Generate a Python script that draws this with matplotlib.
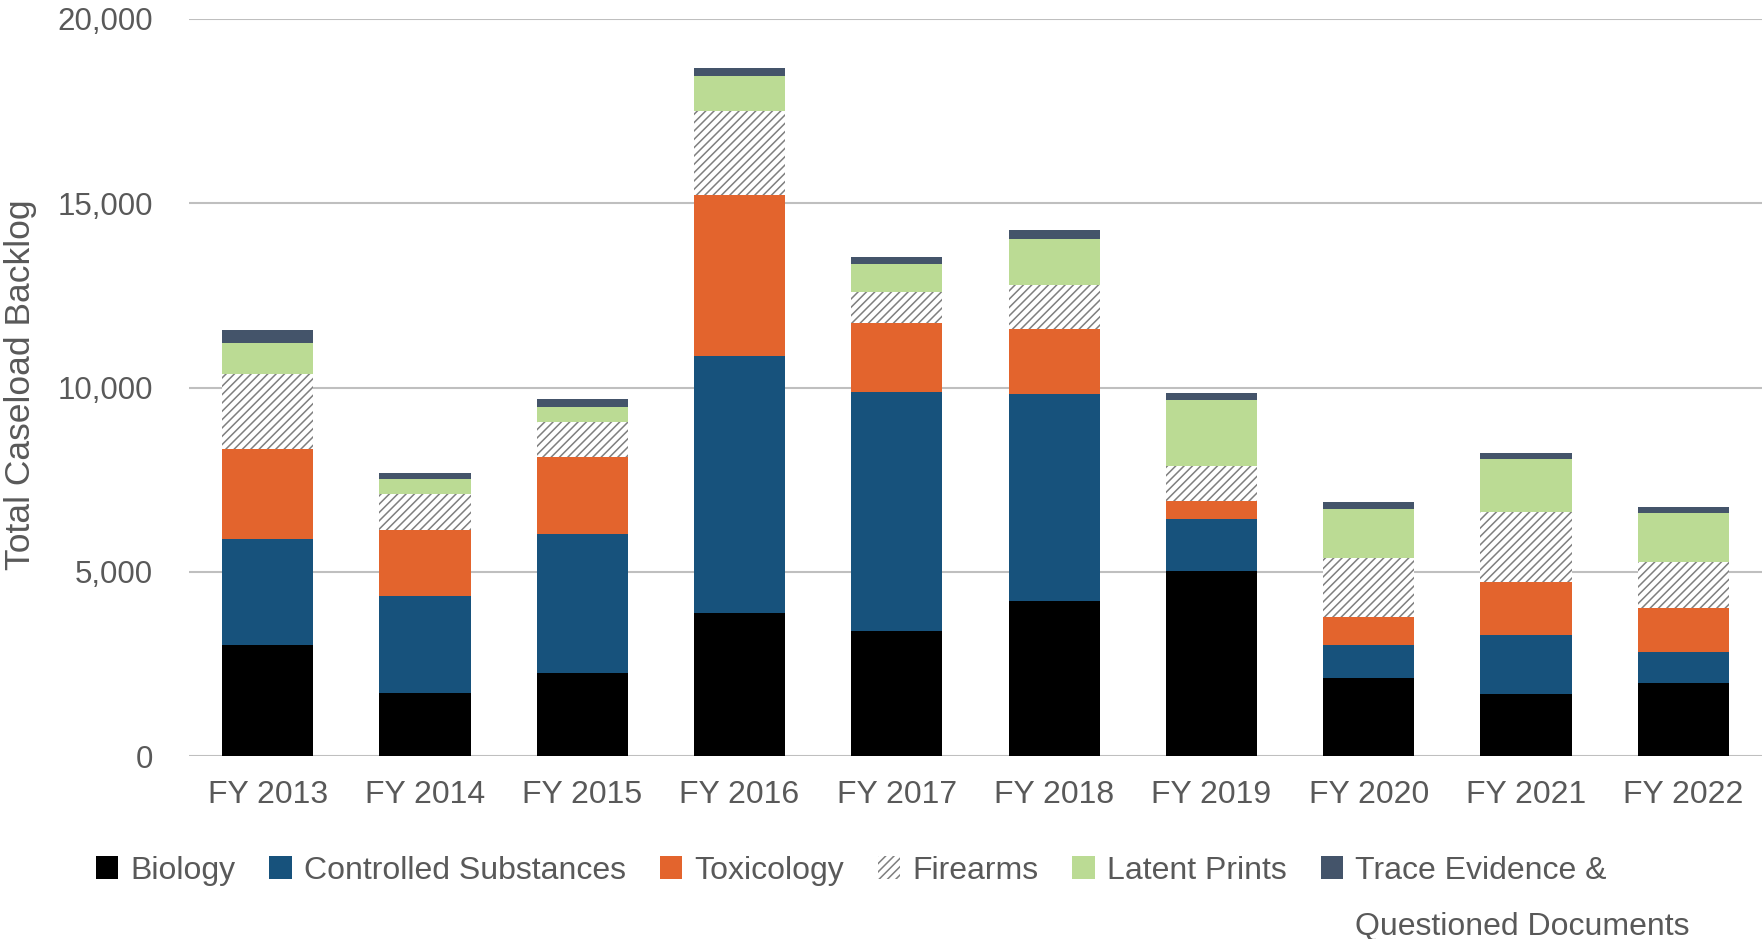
import matplotlib
matplotlib.use('Agg')
import matplotlib.pyplot as plt
import numpy as np

# values (cumulative heights converted to segments)
years = ['FY 2013', 'FY 2014', 'FY 2015', 'FY 2016', 'FY 2017',
         'FY 2018', 'FY 2019', 'FY 2020', 'FY 2021', 'FY 2022']
biology = [3020, 1710, 2255, 3870, 3385, 4205, 5030, 2105, 1680, 1980]
controlled = [2865, 2620, 3780, 6985, 6495, 5610, 1405, 915, 1615, 855]
toxicology = [2440, 1800, 2075, 4360, 1860, 1770, 490, 760, 1430, 1190]
firearms = [2045, 975, 945, 2285, 855, 1190, 945, 1585, 1890, 1250]
latent = [825, 425, 425, 945, 765, 1250, 1800, 1340, 1435, 1310]
trace = [365, 155, 215, 215, 185, 245, 185, 185, 185, 185]

series = [
    ('Biology', biology, '#000000', None),
    ('Controlled Substances', controlled, '#17527C', None),
    ('Toxicology', toxicology, '#E3642D', None),
    ('Firearms', firearms, '#FFFFFF', '////'),
    ('Latent Prints', latent, '#BBDB94', None),
    ('Trace Evidence &', trace, '#44546A', None),
]

txt = '#595959'
plt.rcParams['font.family'] = ['Liberation Sans', 'DejaVu Sans']
plt.rcParams['hatch.linewidth'] = 1.1

fig = plt.figure(figsize=(17.62, 9.39), dpi=100)
ax = fig.add_axes([189/1762, 1 - 756/939, 1 - 189/1762, (756 - 19)/939])

x = np.arange(len(years))
bottom = np.zeros(len(years))
handles = []
for name, vals, col, hatch in series:
    if hatch:
        b = ax.bar(x, vals, 0.58, bottom=bottom, color=col, edgecolor='#7F7F7F',
                   hatch=hatch, linewidth=0, label=name, zorder=3)
    else:
        b = ax.bar(x, vals, 0.58, bottom=bottom, color=col, linewidth=0,
                   label=name, zorder=3)
    handles.append(b)
    bottom += np.array(vals)

ax.set_xlim(-0.5, 9.5)
ax.set_ylim(0, 20000)
ax.set_yticks([0, 5000, 10000, 15000, 20000])
ax.set_yticklabels(['0', '5,000', '10,000', '15,000', '20,000'])
ax.set_xticks(x)
ax.set_xticklabels(years)
ax.tick_params(axis='y', length=0, pad=26, labelsize=22.5, labelcolor=txt)
ax.tick_params(axis='x', length=0, pad=17, labelsize=23, labelcolor=txt)
ax.grid(axis='y', color='#BFBFBF', linewidth=1.5, zorder=0)
for s in ax.spines.values():
    s.set_visible(False)

fig.text(21/1762, 1 - 385/939, 'Total Caseload Backlog', rotation=90,
         ha='center', va='center', fontsize=25.5, color=txt)

leg = fig.legend(handles=handles, loc='center left',
                 bbox_to_anchor=(96/1762, 1 - 871/939), ncol=6, frameon=False,
                 fontsize=23, handlelength=0.7, handleheight=0.74,
                 handletextpad=0.39, columnspacing=1.05, borderpad=0,
                 borderaxespad=0)
for t in leg.get_texts():
    t.set_color(txt)

# second line of the last legend label
fig.canvas.draw()
bb = leg.get_texts()[-1].get_window_extent()
fig.text(bb.x0 / fig.bbox.width, (bb.y0 - 56) / fig.bbox.height,
         'Questioned Documents', ha='left', va='bottom', fontsize=23, color=txt)

fig.savefig('out.png', dpi=100)
